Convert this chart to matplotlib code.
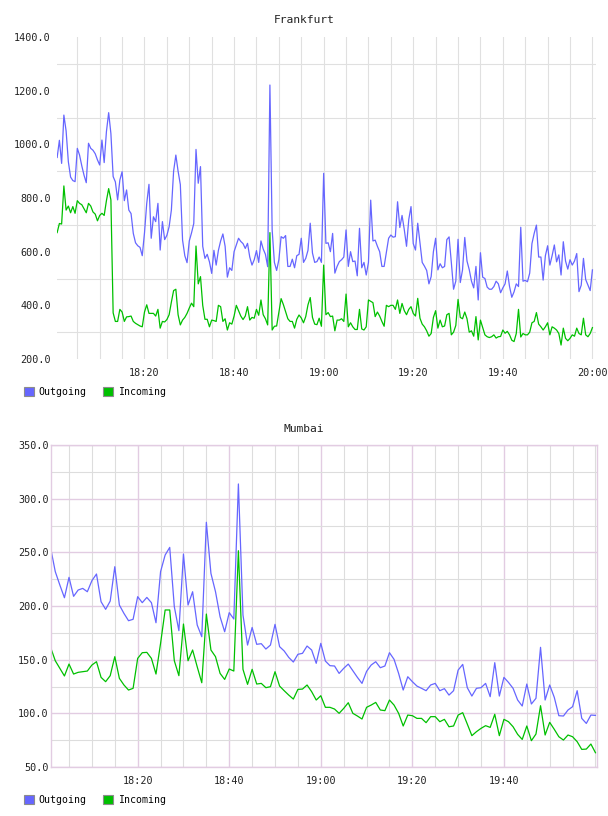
import matplotlib
matplotlib.use('Agg')
import matplotlib.pyplot as plt
import matplotlib.dates as mdates
import matplotlib.ticker as mticker
import matplotlib.patches as mpatches
import numpy as np
import pandas as pd

# Frankfurt, one sample every 30 s from 18:00:30
fra_out = [951, 1015, 929, 1109, 1050, 935, 878, 865, 861, 985,
           960, 920, 885, 857, 1004, 985, 978, 965, 942, 923,
           1016, 932, 1047, 1118, 1040, 880, 860, 793, 867, 898,
           790, 830, 755, 742, 668, 633, 622, 616, 585, 670,
           780, 851, 650, 730, 712, 780, 606, 712, 645, 661,
           693, 755, 900, 960, 900, 850, 643, 585, 559, 640,
           670, 705, 981, 855, 917, 620, 575, 590, 562, 519,
           605, 550, 605, 640, 666, 620, 505, 540, 530, 600,
           625, 650, 638, 630, 612, 631, 580, 550, 570, 604,
           560, 640, 610, 590, 544, 1221, 681, 560, 530, 570,
           656, 650, 660, 545, 545, 572, 540, 585, 590, 650,
           560, 575, 605, 706, 595, 560, 563, 580, 560, 892,
           631, 633, 600, 668, 520, 545, 563, 570, 580, 681,
           545, 600, 563, 565, 510, 687, 540, 560, 513, 560,
           792, 640, 643, 620, 600, 545, 545, 598, 650, 662,
           654, 656, 786, 690, 735, 682, 620, 720, 768, 630,
           606, 706, 633, 560, 546, 530, 480, 507, 600, 650,
           532, 555, 540, 545, 645, 655, 560, 460, 490, 646,
           485, 532, 653, 565, 533, 490, 465, 545, 420, 596,
           505, 500, 468, 460, 460, 470, 490, 480, 447, 465,
           480, 528, 470, 430, 450, 480, 470, 691, 490, 493,
           488, 520, 630, 668, 699, 580, 580, 494, 585, 622,
           550, 585, 625, 562, 588, 513, 637, 565, 535, 570,
           550, 565, 593, 451, 475, 575, 496, 475, 455, 532]
fra_in = [671, 705, 703, 845, 755, 770, 745, 768, 743, 790,
          780, 775, 760, 745, 780, 770, 748, 740, 715, 735,
          743, 735, 790, 835, 793, 372, 340, 340, 385, 375,
          340, 357, 358, 360, 340, 333, 328, 323, 320, 375,
          402, 370, 370, 370, 360, 385, 315, 340, 338, 347,
          365, 412, 455, 460, 365, 327, 345, 355, 370, 390,
          408, 395, 621, 480, 507, 400, 348, 348, 320, 345,
          343, 340, 400, 395, 340, 350, 308, 335, 330, 360,
          400, 380, 360, 347, 360, 395, 345, 355, 352, 385,
          363, 420, 365, 350, 327, 671, 308, 322, 323, 375,
          425, 403, 377, 350, 340, 340, 315, 348, 364, 353,
          335, 358, 402, 429, 355, 330, 328, 352, 322, 550,
          365, 373, 358, 360, 305, 345, 345, 350, 340, 442,
          320, 335, 320, 310, 310, 385, 312, 308, 320, 420,
          415, 410, 358, 375, 360, 340, 322, 400, 395, 400,
          400, 385, 420, 370, 407, 380, 365, 385, 395, 370,
          360, 426, 352, 330, 320, 305, 285, 295, 355, 380,
          315, 345, 320, 323, 365, 370, 290, 300, 325, 422,
          355, 350, 375, 350, 300, 305, 285, 358, 271, 345,
          318, 290, 283, 280, 283, 290, 278, 283, 284, 308,
          296, 303, 290, 270, 265, 295, 385, 282, 295, 290,
          290, 300, 335, 340, 373, 330, 320, 308, 320, 335,
          290, 320, 315, 308, 295, 252, 315, 277, 268, 277,
          290, 285, 315, 295, 290, 352, 290, 283, 295, 317]

# Mumbai, one sample per minute from 18:01
mum_out = [253.7, 232, 219.5, 207.7, 226.7, 209, 214.9, 216.4, 213.3, 223.6,
           229.8, 204, 196.9, 204.6, 236.6, 200.9, 193.1, 186.3, 187.6, 208.7,
           203.1, 208, 203.1, 184.4, 232, 247.5, 254.6, 199.4, 177, 248.4,
           200.9, 213.3, 182.3, 171.4, 278, 230.4, 213.3, 190, 176, 193.8,
           187.9, 313.7, 191.6, 163.6, 180, 164.3, 164.9, 159.9, 163.6, 182.9,
           162.1, 158.1, 152.1, 147.8, 155, 155.9, 162.7, 159, 146.6, 165.2,
           148.7, 144.4, 144.1, 137.2, 141.9, 145.9, 139.7, 133.5, 127.9, 139.1,
           145, 148.1, 142.5, 144.1, 156.5, 150.3, 137.2, 121.7, 134.1, 129.5,
           125.4, 123.3, 121.1, 126.4, 127.9, 121.1, 123, 117, 121.1, 140.3,
           145.6, 123.9, 116.1, 123.3, 123.9, 127.9, 115.5, 147.2, 116.1, 133.5,
           128.8, 123.3, 112.4, 106.8, 127.3, 108.7, 114, 161.5, 112.4, 126.4,
           114.9, 97.8, 97.5, 103.1, 106.2, 121.1, 95.3, 90.6, 98.4, 98.1]
mum_in = [161.2, 149, 141.9, 134.8, 145.9, 136.6, 138.2, 138.8, 139.4, 145,
          148.1, 133.5, 129.5, 135.1, 152.8, 132.6, 126.4, 121.7, 123.3, 151.2,
          156.5, 156.8, 151.2, 136.6, 165.2, 196.3, 196.3, 149, 135.1, 183.2,
          149, 159, 143.4, 128.5, 192.5, 159, 152.8, 137.2, 131.6, 141.3,
          139.4, 251.5, 141, 127, 141, 127.3, 127.9, 123.9, 124.8, 138.8,
          125.4, 121.1, 117, 113.3, 122.3, 122.6, 126.4, 120.2, 112.4, 116.4,
          105.6, 105.6, 104, 100, 104.6, 109.9, 100, 97.5, 94.7, 105.6,
          107.7, 110.2, 103.1, 102.5, 112.4, 107.7, 100, 88.2, 98.4, 97.8,
          95.3, 95.3, 91.3, 96.9, 96.9, 92.2, 94.4, 87.5, 88.2, 98.4,
          100.6, 90, 79.2, 82.9, 86, 88.5, 86.9, 99.1, 79.2, 94.4,
          92.2, 87.5, 80.4, 75.7, 88.2, 74.5, 80.7, 107.1, 79.8, 91.6,
          85.1, 78.2, 75.1, 79.8, 78.2, 73.6, 66.4, 66.7, 71.4, 63.3]

fra_ticks = ['18:20', '18:40', '19:00', '19:20', '19:40', '20:00']
mum_ticks = ['18:20', '18:40', '19:00', '19:20', '19:40']
fra_yticks = [200, 400, 600, 800, 1000, 1200, 1400]
mum_yticks = [50, 100, 150, 200, 250, 300, 350]
series_names = ['Outgoing', 'Incoming']

DAY = '2014-01-01 '
fra_times = pd.date_range(DAY + '18:00:30', periods=len(fra_out), freq='30s')
mum_times = pd.date_range(DAY + '18:01:00', periods=len(mum_out), freq='60s')

BLUE = '#6666ff'
GREEN = '#00c000'
GRAY = '#e0e0e0'
PURPLE = '#e2cce2'
plt.rcParams['font.family'] = ['DejaVu Sans Mono']

# 5 minute grid positions
grid5 = mdates.date2num(pd.date_range(DAY + '18:00', DAY + '20:00', freq='5min'))

fig = plt.figure(figsize=(6.08, 8.16), dpi=100)
W, H = 608, 816
ax1 = fig.add_axes([57 / W, 1 - 359 / H, (596 - 57) / W, 322 / H])
ax2 = fig.add_axes([50.7 / W, 1 - 767 / H, (597 - 50.7) / W, 322 / H])

# --- Frankfurt
ax1.plot(fra_times, fra_out, color=BLUE, lw=0.9)
ax1.plot(fra_times, fra_in, color=GREEN, lw=0.9)
ax1.set_xlim(pd.Timestamp(DAY + '18:00:28'), pd.Timestamp(DAY + '20:00:48'))
ax1.set_ylim(200, 1400)
ax1.set_yticks(fra_yticks)
ax1.set_yticklabels(['%.1f' % v for v in fra_yticks])
ax1.yaxis.set_minor_locator(mticker.FixedLocator(np.arange(300, 1400, 200)))
ax1.set_xticks([pd.Timestamp(DAY + t) for t in fra_ticks])
ax1.set_xticklabels(fra_ticks)
ax1.xaxis.set_minor_locator(mticker.FixedLocator(grid5))
ax1.grid(which='minor', axis='y', color=GRAY, lw=0.8)
ax1.grid(which='both', axis='x', color=GRAY, lw=0.8)
ax1.set_axisbelow(True)
for s in ax1.spines.values():
    s.set_visible(False)
ax1.tick_params(which='both', length=0, labelsize=7.3, colors='#222222')
ax1.tick_params(axis='y', pad=4.5)
ax1.tick_params(axis='x', pad=6.5)

# --- Mumbai
ax2.plot(mum_times, mum_out, color=BLUE, lw=0.9)
ax2.plot(mum_times, mum_in, color=GREEN, lw=0.9)
ax2.set_xlim(pd.Timestamp(DAY + '18:01:00'), pd.Timestamp(DAY + '20:00:20'))
ax2.set_ylim(50, 350)
ax2.set_yticks(mum_yticks)
ax2.set_yticklabels(['%.1f' % v for v in mum_yticks])
ax2.yaxis.set_minor_locator(mticker.FixedLocator(np.arange(75, 350, 50)))
ax2.set_xticks([pd.Timestamp(DAY + t) for t in mum_ticks])
ax2.set_xticklabels(mum_ticks)
ax2.xaxis.set_minor_locator(mticker.FixedLocator(grid5))
ax2.grid(which='minor', color='#dddddd', lw=0.8)
ax2.grid(which='major', color=PURPLE, lw=1.0)
ax2.set_axisbelow(True)
for s in ax2.spines.values():
    s.set_color(PURPLE)
    s.set_linewidth(1.0)
ax2.tick_params(which='both', length=0, labelsize=7.3, colors='#222222')
ax2.tick_params(axis='y', pad=1.5)
ax2.tick_params(axis='x', pad=6.5)

# titles and legends
for title, ty, ly in [('Frankfurt', 20, 392), ('Mumbai', 429, 800)]:
    fig.text(0.5, 1 - ty / H, title, ha='center', va='center',
             fontsize=8.1, color='#222222')
    handles = [mpatches.Patch(facecolor=c, edgecolor='#8c8c8c', lw=0.8, label=n)
               for c, n in zip([BLUE, GREEN], series_names)]
    fig.legend(handles=handles, loc='center left',
               bbox_to_anchor=(24 / W, 1 - ly / H), ncol=2, frameon=False,
               fontsize=7.1, handlelength=1.0, handleheight=1.0,
               handletextpad=0.5, columnspacing=1.65, borderpad=0,
               borderaxespad=0)

fig.savefig('out.png', dpi=100)
